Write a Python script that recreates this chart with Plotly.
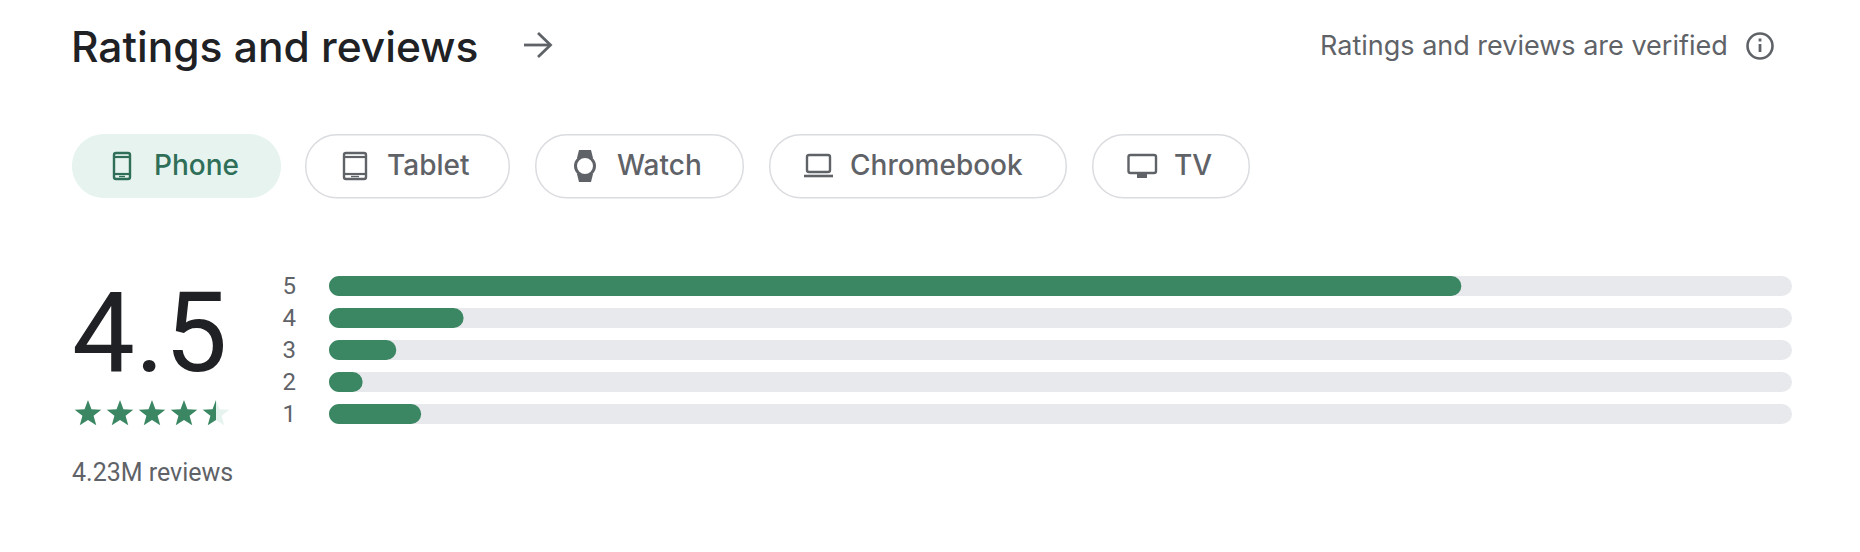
import math
import plotly.graph_objects as go

W, H = 1860, 552

# ---- data ----
star_labels = ["1", "2", "3", "4", "5"]
share_percent = [6.3, 2.3, 4.6, 9.2, 77.4]
track_percent = [100, 100, 100, 100, 100]
rating_text = "4.5"
reviews_text = "4.23M reviews"
title_text = "Ratings and reviews"
verified_text = "Ratings and reviews are verified"
chip_names = ["Phone", "Tablet", "Watch", "Chromebook", "TV"]

# ---- colours ----
GREEN = "#3c8763"
TRACK = "#e8e9ed"
DARK = "#202124"
GREY = "#5f6368"
CHIP_ON = "#e6f3ef"
CHIP_TXT = "#2f6f58"
BORDER = "#dadce0"
HEAD = "Inter"
BODY = "Roboto"

# bar geometry (pixels on the canvas)
BAR_L, BAR_R = 329, 1792
ROW_TOP, ROW_STEP, BAR_H = 270, 32, 20
ROWS = len(star_labels)


def X(v):
    return v / W


def Y(v):
    return 1 - v / H


def P(v):
    return f"{X(v[0]):.5f},{Y(v[1]):.5f}"


def rrect(x0, y0, x1, y1, r):
    k = r * 0.5523
    return (
        f"M{P((x0 + r, y0))} L{P((x1 - r, y0))} "
        f"C{P((x1 - r + k, y0))} {P((x1, y0 + r - k))} {P((x1, y0 + r))} "
        f"L{P((x1, y1 - r))} "
        f"C{P((x1, y1 - r + k))} {P((x1 - r + k, y1))} {P((x1 - r, y1))} "
        f"L{P((x0 + r, y1))} "
        f"C{P((x0 + r - k, y1))} {P((x0, y1 - r + k))} {P((x0, y1 - r))} "
        f"L{P((x0, y0 + r))} "
        f"C{P((x0, y0 + r - k))} {P((x0 + r - k, y0))} {P((x0 + r, y0))} Z"
    )


def poly(pts, close=True):
    s = "M" + " L".join(P(p) for p in pts)
    return s + (" Z" if close else "")


shapes = []


def add(path, fill=None, line=None, width=0):
    shapes.append(dict(
        type="path", xref="paper", yref="paper", path=path, layer="above",
        fillcolor=fill if fill else "rgba(0,0,0,0)",
        line=dict(color=line if line else "rgba(0,0,0,0)", width=width),
    ))


annotations = []


def text(s, x, y, size, color, font=BODY, anchor="left", weight=400):
    annotations.append(dict(
        text=s, x=X(x), y=Y(y), xref="paper", yref="paper", showarrow=False,
        xanchor=anchor, yanchor="middle", borderpad=0, borderwidth=0,
        font=dict(family=font, size=size, color=color, weight=weight),
    ))


# header
text(title_text, 71, 46, 42.5, DARK, HEAD, weight=500)
add(poly([(524, 45), (550, 45)], False), line=GREY, width=2.8)
add(poly([(538, 33), (550.5, 45), (538, 57)], False), line=GREY, width=2.8)
text(verified_text, 1320, 45, 27, GREY, HEAD)
add(rrect(1747.5, 33.5, 1772.5, 58.5, 12.5), line=GREY, width=2.6)
add(poly([(1760, 44), (1760, 52)], False), line=GREY, width=2.8)
add(poly([(1760, 38.5), (1760, 41.5)], False), line=GREY, width=2.8)

# chips
chip_boxes = [(72, 281), (305, 510), (535, 744), (769, 1067), (1092, 1250)]
chip_text_x = [154, 387, 617, 850, 1174]
for i, (name, (a, b), tx) in enumerate(zip(chip_names, chip_boxes, chip_text_x)):
    if i == 0:
        add(rrect(a, 134, b, 198, 32), fill=CHIP_ON)
    else:
        add(rrect(a + .75, 134.75, b - .75, 197.75, 31), line=BORDER, width=1.5)
    text(name, tx, 165, 28, CHIP_TXT if i == 0 else GREY, HEAD, weight=500)

# phone icon
add(rrect(114, 153, 130, 179, 2), line=CHIP_TXT, width=2.4)
add(poly([(114, 157), (130, 157)], False), line=CHIP_TXT, width=2.2)
add(poly([(114, 174), (130, 174)], False), line=CHIP_TXT, width=2.2)
add(poly([(119, 176.5), (125, 176.5)], False), line=CHIP_TXT, width=1.4)
# tablet icon
add(rrect(344, 153, 366, 179, 2), line=GREY, width=2.4)
add(poly([(344, 157), (366, 157)], False), line=GREY, width=2.2)
add(poly([(344, 174), (366, 174)], False), line=GREY, width=2.2)
add(poly([(351, 176.5), (359, 176.5)], False), line=GREY, width=1.4)
# watch icon
add(poly([(579, 150), (591, 150), (593, 158), (577, 158)]), fill=GREY)
add(poly([(577, 174), (593, 174), (591, 182), (579, 182)]), fill=GREY)
add(rrect(575.5, 156.5, 594.5, 175.5, 9.5), fill="#ffffff", line=GREY, width=3)
# laptop icon
add(rrect(807, 155, 830, 172, 2), line=GREY, width=2.4)
add(poly([(804, 176), (833, 176)], False), line=GREY, width=2.6)
# tv icon
add(rrect(1128.5, 155, 1156, 173, 2), line=GREY, width=2.4)
add(poly([(1137, 174), (1147, 174), (1147, 178), (1137, 178)]), fill=GREY)


# stars
def star(cx, cy, R):
    r = R * 0.42
    return [
        (cx + (R if k % 2 == 0 else r) * math.sin(k * math.pi / 5),
         cy - (R if k % 2 == 0 else r) * math.cos(k * math.pi / 5))
        for k in range(10)
    ]


star_cx = [88, 120, 152, 184, 216]
for c in star_cx[:4]:
    add(poly(star(c, 414, 14)), fill=GREEN)
pts = star(star_cx[4], 414, 14)
add(poly(pts), fill=CHIP_ON)
left = [pts[0], pts[5], pts[6], pts[7], pts[8], pts[9]]
left[1] = (star_cx[4], pts[5][1])
add(poly(left), fill=GREEN)

# white corner masks give the bars their rounded left ends
R = BAR_H / 2
K = R * 0.5523
for row in range(ROWS):
    t = ROW_TOP + (ROW_STEP - BAR_H) / 2 + row * ROW_STEP
    b = t + BAR_H
    add(
        f"M{P((BAR_L - 1, t - 0.5))} L{P((BAR_L + R, t - 0.5))} L{P((BAR_L + R, t))} "
        f"C{P((BAR_L + R - K, t))} {P((BAR_L, t + R - K))} {P((BAR_L, t + R))} "
        f"C{P((BAR_L, b - R + K))} {P((BAR_L + R - K, b))} {P((BAR_L + R, b))} "
        f"L{P((BAR_L + R, b + 0.5))} L{P((BAR_L - 1, b + 0.5))} Z",
        fill="#ffffff",
    )

text(rating_text, 149, 332.5, 112, DARK, BODY, anchor="center")
text(reviews_text, 72, 472, 25, GREY, BODY)

fig = go.Figure()
fig.add_bar(y=star_labels, x=track_percent, orientation="h",
            marker=dict(color=TRACK, line_width=0, cornerradius=R), hoverinfo="skip")
fig.add_bar(y=star_labels, x=share_percent, orientation="h", xaxis="x2", yaxis="y2",
            marker=dict(color=GREEN, line_width=0, cornerradius=R), hoverinfo="skip")

x_dom = [X(BAR_L), X(BAR_R)]
y_dom = [Y(ROW_TOP + ROWS * ROW_STEP), Y(ROW_TOP)]
fig.update_layout(
    width=W, height=H, autosize=False,
    margin=dict(l=0, r=0, t=0, b=0, pad=0),
    paper_bgcolor="#ffffff", plot_bgcolor="rgba(0,0,0,0)",
    showlegend=False, barmode="overlay", bargap=1 - BAR_H / ROW_STEP,
    shapes=shapes, annotations=annotations,
    xaxis=dict(domain=x_dom, range=[0, 100], visible=False, fixedrange=True),
    xaxis2=dict(domain=x_dom, range=[0, 100], visible=False, fixedrange=True,
                overlaying="x", anchor="y2"),
    yaxis=dict(
        domain=y_dom, range=[-0.5, 4.5], type="category",
        categoryorder="array", categoryarray=star_labels,
        showgrid=False, zeroline=False, showline=False, ticks="",
        ticklabelstandoff=32, fixedrange=True,
        tickfont=dict(family=BODY, size=24, color=GREY),
    ),
    yaxis2=dict(
        domain=y_dom, range=[-0.5, 4.5], type="category",
        categoryorder="array", categoryarray=star_labels,
        visible=False, fixedrange=True, overlaying="y", anchor="x2",
    ),
)

fig.write_html("out.html", config={"displayModeBar": False},
               post_script="document.body.style.margin='0';document.documentElement.style.overflow='hidden';")
